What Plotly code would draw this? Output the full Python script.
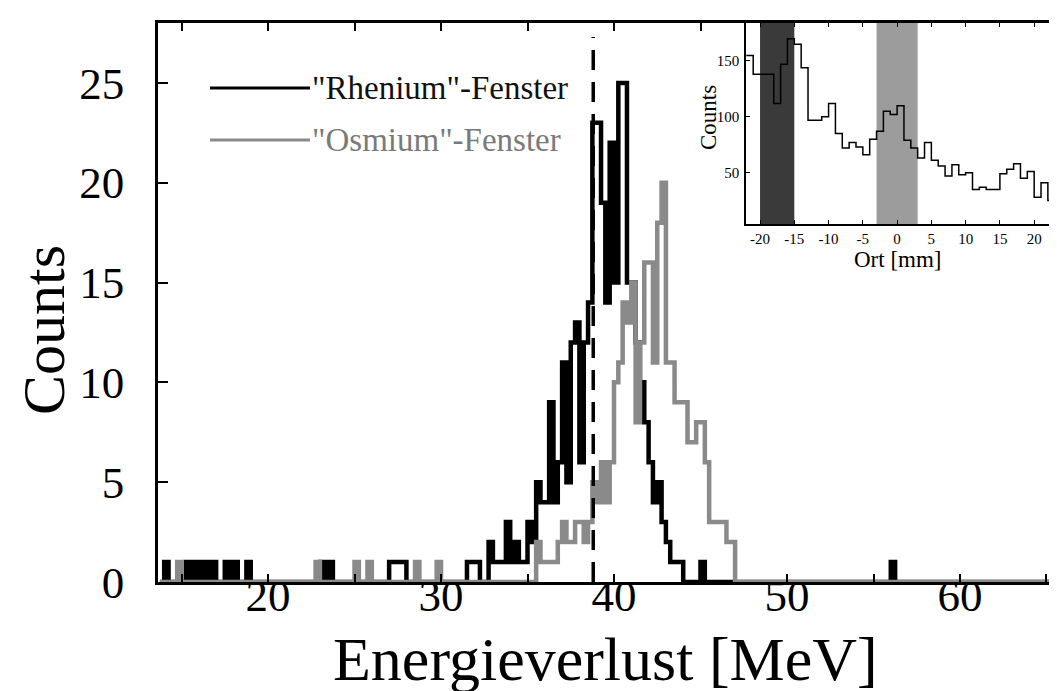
import plotly.graph_objects as go

# ---------------- data ----------------
BIN_WIDTH = 0.25          # MeV
HIST_START = 13.75
HIST_END = 66.0

# "Rhenium"-Fenster : lower bin edge (MeV) and counts of non-empty bins
rhenium_bin_lo = [14.0, 15.25, 15.75, 16.25, 16.75, 17.5, 18.0, 18.75,
                  23.0, 23.5, 27.0, 27.25, 27.5, 27.75, 31.5, 31.75, 32.0,
                  32.75, 33.0, 33.25, 33.5, 33.75, 34.0, 34.25, 34.5, 34.75,
                  35.0, 35.25, 35.5, 35.75, 36.0, 36.25, 36.5, 36.75, 37.0,
                  37.25, 37.5, 37.75, 38.0, 38.25, 38.5, 38.75, 39.0, 39.25,
                  39.5, 39.75, 40.0, 40.25, 40.5, 40.75, 41.0, 41.25, 41.5,
                  41.75, 42.0, 42.25, 42.5, 42.75, 43.0, 43.25, 43.5, 43.75,
                  45.0, 56.0]
rhenium_counts = [1, 1, 1, 1, 1, 1, 1, 1,
                  1, 1, 1, 1, 1, 1, 1, 1, 1,
                  2, 1, 1, 1, 3, 1, 2, 1, 1,
                  3, 2, 5, 4, 4, 9, 4, 6, 11,
                  5, 12, 13, 6, 12, 14, 23, 23, 19,
                  14, 22, 15, 25, 25, 15, 15, 12, 10,
                  8, 6, 4, 5, 3, 2, 1, 1, 1,
                  1, 1]

# "Osmium"-Fenster
osmium_bin_lo = [14.75, 22.75, 25.0, 25.75, 28.5, 29.75,
                 35.5, 35.75, 36.0, 36.25, 36.5, 36.75, 37.0, 37.25, 37.5,
                 37.75, 38.0, 38.25, 38.5, 38.75, 39.0, 39.25, 39.5, 39.75,
                 40.0, 40.25, 40.5, 40.75, 41.0, 41.25, 41.5, 41.75, 42.0,
                 42.25, 42.5, 42.75, 43.0, 43.25, 43.5, 43.75, 44.0, 44.25,
                 44.5, 44.75, 45.0, 45.25, 45.5, 45.75, 46.0, 46.25, 46.5,
                 46.75]
osmium_counts = [1, 1, 1, 1, 1, 1,
                 2, 1, 1, 1, 1, 2, 3, 2, 2,
                 3, 3, 2, 3, 5, 4, 6, 4, 6,
                 10, 11, 14, 13, 15, 8, 12, 16, 16,
                 11, 18, 20, 11, 11, 9, 9, 9, 7,
                 7, 8, 8, 6, 3, 3, 3, 3, 2,
                 2]

CUT_ENERGY = 38.8   # dashed window limit (MeV)
CUT_TOP = 27.3

# inset: position histogram (1 mm bins)
ort_edges_start = -22
ort_counts = [155, 138, 138, 138, 112, 147, 170, 165, 144, 97, 97, 100, 112,
              85, 72, 77, 73, 66, 80, 87, 105, 102, 110, 79, 72, 63, 77, 61,
              56, 47, 57, 48, 50, 35, 37, 35, 35, 49, 53, 58, 45, 51, 28, 41,
              25, 33, 51]
rhenium_window = [-20, -15]
osmium_window = [-3, 3]
INSET_XRANGE = [-22.05, 24.5]
INSET_YRANGE = [4, 184]

main_xticks = [15, 20, 25, 30, 35, 40, 45, 50, 55, 60, 65]
main_yticks = [0, 5, 10, 15, 20, 25]
inset_xticks = [-20, -15, -10, -5, 0, 5, 10, 15, 20]
inset_yticks = [50, 100, 150]

# ---------------- helpers ----------------
def dense(bin_lo, counts):
    n = int(round((HIST_END - HIST_START) / BIN_WIDTH))
    arr = [0] * n
    for lo, c in zip(bin_lo, counts):
        arr[int(round((lo - HIST_START) / BIN_WIDTH))] = c
    return arr


def step_xy(start, width, counts, close=True):
    edges = [start + i * width for i in range(len(counts) + 1)]
    if close:
        xs = [edges[0]] + edges[:-1] + [edges[-1]]
        ys = [0] + list(counts) + [0]
    else:
        xs = edges[:-1] + [edges[-1]]
        ys = list(counts) + [counts[-1]]
    return xs, ys


SERIF = "Liberation Serif"
GRAY = "#8a8a8a"

fig = go.Figure()

# inset window bands (drawn first, under the inset histogram)
for win, col in ((rhenium_window, "#3a3a3a"), (osmium_window, "#9c9c9c")):
    fig.add_trace(go.Scatter(
        x=[win[0], win[1], win[1], win[0], win[0]],
        y=[INSET_YRANGE[0], INSET_YRANGE[0], INSET_YRANGE[1], INSET_YRANGE[1], INSET_YRANGE[0]],
        mode="lines", fill="toself", fillcolor=col, line=dict(width=0, color=col),
        xaxis="x2", yaxis="y2", showlegend=False, hoverinfo="skip"))

ox, oy = step_xy(HIST_START, BIN_WIDTH, dense(osmium_bin_lo, osmium_counts))
rx, ry = step_xy(HIST_START, BIN_WIDTH, dense(rhenium_bin_lo, rhenium_counts))

fig.add_trace(go.Scatter(x=rx, y=ry, mode="lines", line=dict(color="#000", width=4.5, shape="hv"),
                         showlegend=False, hoverinfo="skip"))
fig.add_trace(go.Scatter(x=ox, y=oy, mode="lines", line=dict(color=GRAY, width=4.5, shape="hv"),
                         showlegend=False, hoverinfo="skip"))

fig.add_trace(go.Scatter(x=[CUT_ENERGY, CUT_ENERGY], y=[0, CUT_TOP], mode="lines",
                         line=dict(color="#000", width=3.5, dash="20px,12px"),
                         showlegend=False, hoverinfo="skip"))

ix, iy = step_xy(ort_edges_start, 1, ort_counts, close=False)
fig.add_trace(go.Scatter(x=ix, y=iy, mode="lines", xaxis="x2", yaxis="y2",
                         line=dict(color="#000", width=1.5, shape="hv"),
                         showlegend=False, hoverinfo="skip"))

# ---------------- layout ----------------
L, R, T, B = 150, 0, 15, 117
W, H = 1057, 691
PW, PH = W - L - R, H - T - B


def px2paper(px):
    return (px - L) / PW


def py2paper(py):
    return (H - B - py) / PH


fig.update_layout(
    width=W, height=H,
    margin=dict(l=L, r=R, t=T, b=B, pad=0),
    paper_bgcolor="white", plot_bgcolor="white",
    font=dict(family=SERIF, color="#000"),
    xaxis=dict(range=[13.64, 66.07], showgrid=False, zeroline=False,
               showline=True, linewidth=2.5, linecolor="#000", mirror="ticks",
               ticks="inside", ticklen=8, tickwidth=2, tickcolor="#000",
               tickvals=main_xticks, ticklabelstandoff=-28,
               ticktext=[str(v) if v % 10 == 0 else "" for v in main_xticks],
               tickfont=dict(family=SERIF, size=45, color="#000")),
    yaxis=dict(range=[0, 28], showgrid=False, zeroline=False,
               showline=True, linewidth=2.5, linecolor="#000",
               ticks="inside", ticklen=10, tickwidth=2, tickcolor="#000",
               tickvals=main_yticks, ticklabelstandoff=22,
               tickfont=dict(family=SERIF, size=45, color="#000")),
    xaxis2=dict(domain=[px2paper(738), 1], anchor="y2", range=INSET_XRANGE,
                showgrid=False, zeroline=False, showline=True, linewidth=1.5,
                linecolor="#000", mirror="ticks", ticks="inside", ticklen=4,
                tickcolor="#000", tickvals=inset_xticks,
                ticktext=[str(v) for v in inset_xticks],
                tickfont=dict(family=SERIF, size=15, color="#000")),
    yaxis2=dict(domain=[py2paper(216), 1], anchor="x2", range=INSET_YRANGE,
                showgrid=False, zeroline=False, showline=True, linewidth=1.5,
                linecolor="#000", ticks="inside", ticklen=4, tickcolor="#000",
                tickvals=inset_yticks, ticklabelstandoff=2,
                tickfont=dict(family=SERIF, size=15, color="#000")),
)

# legend drawn by hand (long sample lines)
fig.add_shape(type="line", xref="paper", yref="paper", x0=px2paper(202), x1=px2paper(302),
              y0=py2paper(80), y1=py2paper(80), line=dict(color="#000", width=3))
fig.add_shape(type="line", xref="paper", yref="paper", x0=px2paper(202), x1=px2paper(302),
              y0=py2paper(132), y1=py2paper(132), line=dict(color=GRAY, width=3))
fig.add_annotation(xref="paper", yref="paper", x=px2paper(302), y=py2paper(80),
                   text='"Rhenium"-Fenster', showarrow=False, xanchor="left", yanchor="middle",
                   font=dict(family=SERIF, size=33, color="#111"))
fig.add_annotation(xref="paper", yref="paper", x=px2paper(302), y=py2paper(132),
                   text='"Osmium"-Fenster', showarrow=False, xanchor="left", yanchor="middle",
                   font=dict(family=SERIF, size=33, color="#7a7a7a"))

# axis titles
fig.add_annotation(xref="paper", yref="paper", x=px2paper(597), y=py2paper(651),
                   text="Energieverlust [MeV]", showarrow=False, xanchor="center", yanchor="middle",
                   font=dict(family=SERIF, size=62, color="#000"))
fig.add_annotation(xref="paper", yref="paper", x=px2paper(36), y=py2paper(322),
                   text="Counts", showarrow=False, textangle=-90, xanchor="center", yanchor="middle",
                   font=dict(family=SERIF, size=60, color="#000"))
fig.add_annotation(xref="paper", yref="paper", x=px2paper(890), y=py2paper(251),
                   text="Ort [mm]", showarrow=False, xanchor="center", yanchor="middle",
                   font=dict(family=SERIF, size=23, color="#000"))
fig.add_annotation(xref="paper", yref="paper", x=px2paper(700), y=py2paper(110),
                   text="Counts", showarrow=False, textangle=-90, xanchor="center", yanchor="middle",
                   font=dict(family=SERIF, size=23, color="#000"))

fig.write_html("out.html")
